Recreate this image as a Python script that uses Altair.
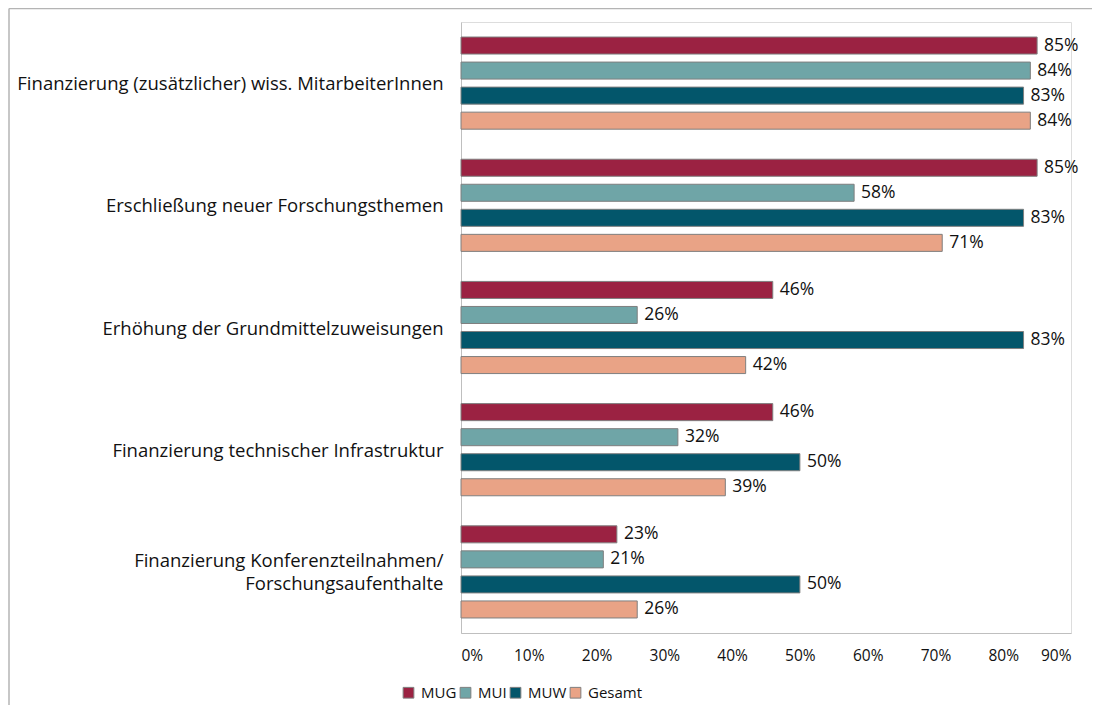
import altair as alt
import pandas as pd

categories = [
    "Finanzierung (zusätzlicher) wiss. MitarbeiterInnen",
    "Erschließung neuer Forschungsthemen",
    "Erhöhung der Grundmittelzuweisungen",
    "Finanzierung technischer Infrastruktur",
    "Finanzierung Konferenzteilnahmen/|Forschungsaufenthalte",
]
series = ["MUG", "MUI", "MUW", "Gesamt"]
mug = [85, 85, 46, 46, 23]
mui = [84, 58, 26, 32, 21]
muw = [83, 83, 83, 50, 50]
gesamt = [84, 71, 42, 39, 26]
colors = ["#9B2242", "#6FA5A7", "#03566B", "#E9A386"]
x_ticks = [0, 10, 20, 30, 40, 50, 60, 70, 80, 90]

rows = []
for s, vals in zip(series, [mug, mui, muw, gesamt]):
    for c, v in zip(categories, vals):
        rows.append({"Kategorie": c, "Gruppe": s, "Wert": v, "Label": f"{v}%"})
df = pd.DataFrame(rows)

FONT = "Open Sans"
TXT = "#111111"

y_enc = alt.Y("Kategorie:N", sort=categories,
              scale=alt.Scale(paddingInner=0, paddingOuter=0),
              axis=alt.Axis(title=None, ticks=False, labelPadding=18, labelFontSize=18.5,
                            labelFont=FONT, labelColor=TXT, labelLimit=500,
                            labelLineHeight=23,
                            labelExpr="split(datum.label, '|')",
                            labelOffset={"condition": {"test": "indexof(datum.value, '|') >= 0",
                                                       "value": -10.5},
                                         "value": 1},
                            domainColor="#bfbfbf", domainWidth=1))
yoff = alt.YOffset("Gruppe:N", sort=series,
                   scale=alt.Scale(paddingInner=0.32, paddingOuter=0.6))
x_enc = alt.X("Wert:Q", scale=alt.Scale(domain=[0, 90], nice=False),
              axis=alt.Axis(title=None, values=x_ticks, ticks=False, grid=False,
                            labelExpr="datum.value + '%'", labelPadding=15,
                            labelFontSize=15.5, labelFont=FONT, labelColor=TXT,
                            domainColor="#bfbfbf", domainWidth=1))

bars = alt.Chart(df).mark_bar(stroke="#7f7f7f", strokeWidth=1).encode(
    x=x_enc, y=y_enc, yOffset=yoff,
    color=alt.Color("Gruppe:N", sort=series,
                    scale=alt.Scale(domain=series, range=colors),
                    legend=alt.Legend(title=None, orient="none", direction="horizontal",
                                      legendX=-60, legendY=663, symbolType="square",
                                      symbolSize=115, symbolStrokeColor="#7f7f7f",
                                      symbolStrokeWidth=1, labelFontSize=15,
                                      labelFont=FONT, labelColor=TXT,
                                      labelOffset=5, columnPadding=1)),
)

text = alt.Chart(df).mark_text(align="left", baseline="middle", dx=7, fontSize=17.5,
                               font=FONT, color=TXT).encode(
    x="Wert:Q", y=alt.Y("Kategorie:N", sort=categories), yOffset=yoff, text="Label:N"
)

frame = pd.DataFrame({"a": [0]})
left_border = alt.Chart(frame).mark_rule(color="#b4b4b4", strokeWidth=1.5).encode(
    x=alt.value(-452), y=alt.value(-13.5), y2=alt.value(700))
top_border = alt.Chart(frame).mark_rule(color="#b4b4b4", strokeWidth=1.5).encode(
    y=alt.value(-13.5), x=alt.value(-452), x2=alt.value(660))

chart = alt.layer(bars, text, left_border, top_border).properties(
    width=610, height=611,
    autosize=alt.AutoSizeParams(type="none"),
    padding={"left": 453, "top": 14, "right": 21, "bottom": 72},
).configure_view(stroke=None).configure(background="white")

chart.save("out.html", embed_options={"renderer": "svg", "actions": False})
